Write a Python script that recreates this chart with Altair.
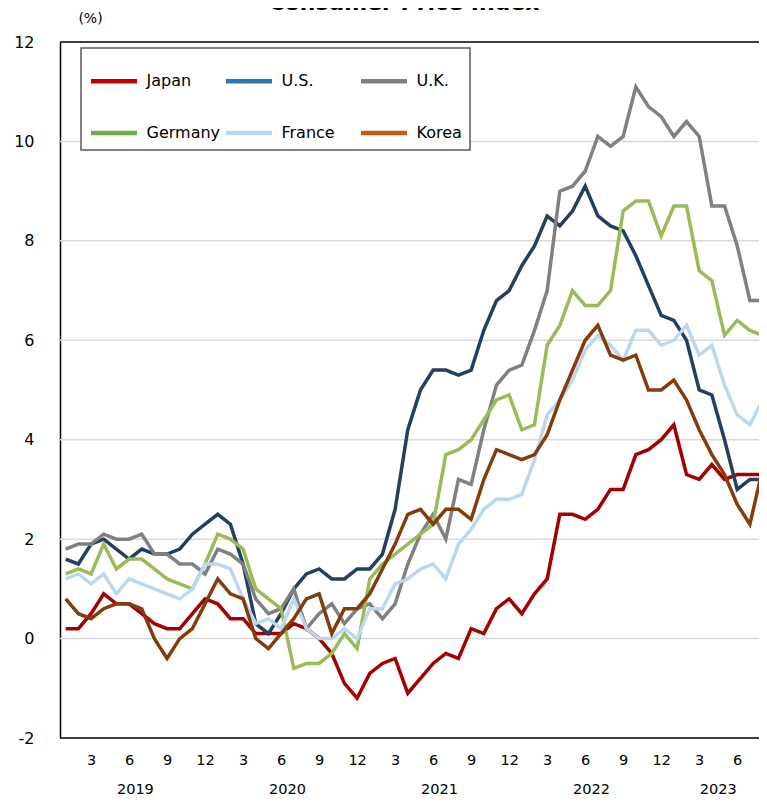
import altair as alt
import pandas as pd

countries = ["Japan", "U.S.", "U.K.", "Germany", "France", "Korea"]

japan = [0.2, 0.2, 0.5, 0.9, 0.7, 0.7, 0.5, 0.3, 0.2, 0.2, 0.5, 0.8,
         0.7, 0.4, 0.4, 0.1, 0.1, 0.1, 0.3, 0.2, 0.0, -0.3, -0.9, -1.2,
         -0.7, -0.5, -0.4, -1.1, -0.8, -0.5, -0.3, -0.4, 0.2, 0.1, 0.6, 0.8,
         0.5, 0.9, 1.2, 2.5, 2.5, 2.4, 2.6, 3.0, 3.0, 3.7, 3.8, 4.0,
         4.3, 3.3, 3.2, 3.5, 3.2, 3.3, 3.3, 3.3]
us = [1.6, 1.5, 1.9, 2.0, 1.8, 1.6, 1.8, 1.7, 1.7, 1.8, 2.1, 2.3,
      2.5, 2.3, 1.5, 0.3, 0.1, 0.5, 1.0, 1.3, 1.4, 1.2, 1.2, 1.4,
      1.4, 1.7, 2.6, 4.2, 5.0, 5.4, 5.4, 5.3, 5.4, 6.2, 6.8, 7.0,
      7.5, 7.9, 8.5, 8.3, 8.6, 9.1, 8.5, 8.3, 8.2, 7.7, 7.1, 6.5,
      6.4, 6.0, 5.0, 4.9, 4.0, 3.0, 3.2, 3.2]
uk = [1.8, 1.9, 1.9, 2.1, 2.0, 2.0, 2.1, 1.7, 1.7, 1.5, 1.5, 1.3,
      1.8, 1.7, 1.5, 0.8, 0.5, 0.6, 1.0, 0.2, 0.5, 0.7, 0.3, 0.6,
      0.7, 0.4, 0.7, 1.5, 2.1, 2.5, 2.0, 3.2, 3.1, 4.2, 5.1, 5.4,
      5.5, 6.2, 7.0, 9.0, 9.1, 9.4, 10.1, 9.9, 10.1, 11.1, 10.7, 10.5,
      10.1, 10.4, 10.1, 8.7, 8.7, 7.9, 6.8, 6.8]
germany = [1.3, 1.4, 1.3, 1.9, 1.4, 1.6, 1.6, 1.4, 1.2, 1.1, 1.0, 1.5,
           2.1, 2.0, 1.8, 1.0, 0.8, 0.6, -0.6, -0.5, -0.5, -0.3, 0.1, -0.2,
           1.2, 1.5, 1.7, 1.9, 2.1, 2.3, 3.7, 3.8, 4.0, 4.4, 4.8, 4.9,
           4.2, 4.3, 5.9, 6.3, 7.0, 6.7, 6.7, 7.0, 8.6, 8.8, 8.8, 8.1,
           8.7, 8.7, 7.4, 7.2, 6.1, 6.4, 6.2, 6.1]
france = [1.2, 1.3, 1.1, 1.3, 0.9, 1.2, 1.1, 1.0, 0.9, 0.8, 1.0, 1.5,
          1.5, 1.4, 0.8, 0.3, 0.4, 0.2, 0.8, 0.2, 0.0, 0.0, 0.2, 0.0,
          0.6, 0.6, 1.1, 1.2, 1.4, 1.5, 1.2, 1.9, 2.2, 2.6, 2.8, 2.8,
          2.9, 3.6, 4.5, 4.8, 5.2, 5.8, 6.1, 5.9, 5.6, 6.2, 6.2, 5.9,
          6.0, 6.3, 5.7, 5.9, 5.1, 4.5, 4.3, 4.8]
korea = [0.8, 0.5, 0.4, 0.6, 0.7, 0.7, 0.6, 0.0, -0.4, 0.0, 0.2, 0.7,
         1.2, 0.9, 0.8, 0.0, -0.2, 0.1, 0.4, 0.8, 0.9, 0.1, 0.6, 0.6,
         0.9, 1.4, 1.9, 2.5, 2.6, 2.3, 2.6, 2.6, 2.4, 3.2, 3.8, 3.7,
         3.6, 3.7, 4.1, 4.8, 5.4, 6.0, 6.3, 5.7, 5.6, 5.7, 5.0, 5.0,
         5.2, 4.8, 4.2, 3.7, 3.3, 2.7, 2.3, 3.4]

line_colors = ["#A50000", "#243F60", "#808080", "#9BBB59", "#BDD7EE", "#843C0C"]
legend_colors = ["#C00000", "#2E75B6", "#7F7F7F", "#70AD47", "#BDD7EE", "#C55A11"]

month_ticks = [i for i in range(56) if i % 12 in (2, 5, 8, 11)]
years = ["2019", "2020", "2021", "2022", "2023"]
year_centers = [5.5, 17.5, 29.5, 41.5, 51.5]
y_ticks = list(range(-2, 13, 2))
grid_values = list(range(0, 12, 2))
frame_values = [-2, 12]

series = [japan, us, uk, germany, france, korea]
rows = []
for c, vals in zip(countries, series):
    for i, v in enumerate(vals):
        rows.append({"country": c, "i": i, "value": v})
df = pd.DataFrame(rows)
years_df = pd.DataFrame({"year": years, "i": year_centers})
grid_df = pd.DataFrame({"v": grid_values})
frame_df = pd.DataFrame({"v": frame_values})

W, H = 699, 696
EXT = W + 10
FONT = "DejaVu Sans"

x_scale = alt.Scale(domain=[-0.45, 54.72], nice=False, zero=False)
y_scale = alt.Scale(domain=[-2, 12], nice=False, zero=False)

x = alt.X("i:Q", scale=x_scale,
          axis=alt.Axis(values=month_ticks,
                        labelExpr="'' + (datum.value % 12 + 1)",
                        title=None, ticks=False, tickSize=0, grid=False, domain=False,
                        labelFlush=False, labelOverlap=False,
                        labelPadding=15, labelBaseline="top",
                        labelFont=FONT, labelFontSize=14.5, labelColor="black"))
y = alt.Y("value:Q", scale=y_scale,
          axis=alt.Axis(values=y_ticks, labelExpr="'' + datum.value",
                        title="(%)", titleAngle=0, titleX=30, titleY=-24,
                        titleAlign="center", titleBaseline="middle", titleFontWeight="normal",
                        titleFontSize=14, titleFont=FONT, titleColor="black",
                        labelFont=FONT, labelFontSize=16, labelColor="black", labelPadding=26,
                        ticks=False, tickSize=0, domainColor="black", domainWidth=1.5,
                        grid=False))

grid = alt.Chart(grid_df).mark_rule(color="#D9D9D9", strokeWidth=1.5).encode(
    y=alt.Y("v:Q", scale=y_scale), x=alt.value(0), x2=alt.value(EXT))

lines = alt.Chart(df).mark_line(strokeWidth=3.5).encode(
    x=x, y=y,
    color=alt.Color("country:N", scale=alt.Scale(domain=countries, range=line_colors), legend=None),
    detail="country:N",
)

legend_layer = alt.Chart(df).mark_line(opacity=0).encode(
    x=alt.X("i:Q", scale=x_scale), y=alt.Y("value:Q", scale=y_scale),
    color=alt.Color("country:N", scale=alt.Scale(domain=countries, range=legend_colors),
                    sort=countries,
                    legend=alt.Legend(orient="none", legendX=21, legendY=6, direction="horizontal",
                                      columns=3, title=None, symbolType="stroke", symbolSize=2116,
                                      symbolStrokeWidth=4.5, symbolOpacity=1, labelFont=FONT,
                                      labelFontSize=16, labelColor="black", labelOffset=7,
                                      columnPadding=-4, rowPadding=17, gridAlign="all", padding=7.5,
                                      strokeColor="#595959", fillColor="white")),
)

year_labels = alt.Chart(years_df).mark_text(
    font=FONT, fontSize=14.5, color="black", baseline="alphabetic", align="center"
).encode(x=alt.X("i:Q", scale=x_scale), y=alt.value(H + 56), text="year:N")

frame = alt.Chart(frame_df).mark_rule(color="black", strokeWidth=1.5).encode(
    y=alt.Y("v:Q", scale=y_scale), x=alt.value(0), x2=alt.value(EXT))

chart = alt.layer(grid, lines, legend_layer, year_labels, frame).resolve_scale(color="independent").properties(
    width=W, height=H,
    title=alt.TitleParams("Consumer Price Index", font=FONT, fontSize=22, fontWeight="bold",
                          anchor="middle", offset=-4, dx=-5.5, color="black"),
    autosize=alt.AutoSizeParams(type="none"),
    padding={"left": 52, "top": 34, "right": 0, "bottom": 60},
).configure_view(stroke=None).configure_legend(strokeWidth=1.5)

chart.save("out.html", embed_options={"renderer": "svg", "actions": False})
